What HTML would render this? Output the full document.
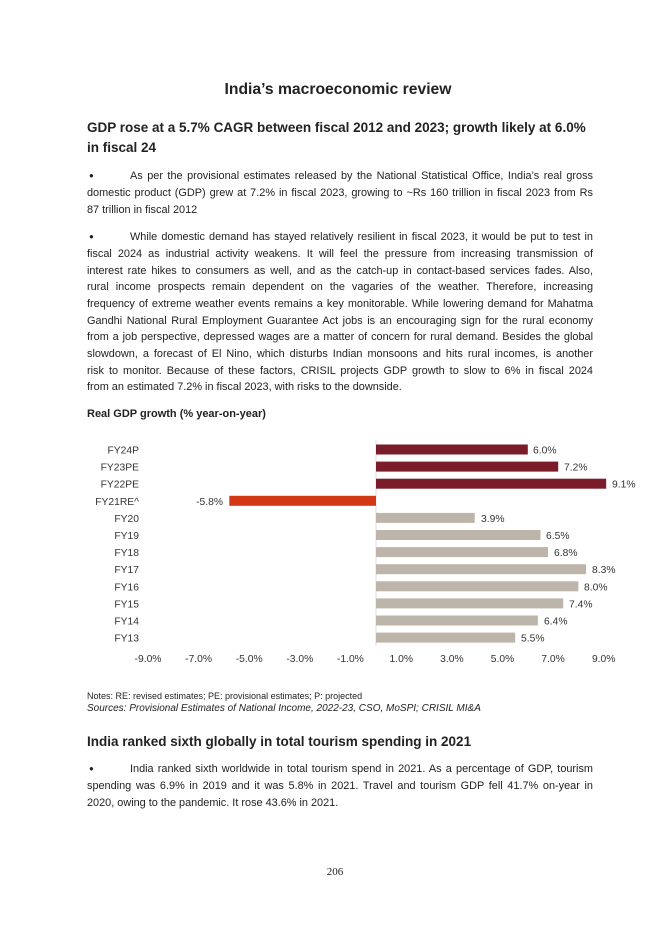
<!DOCTYPE html>
<html><head><meta charset="utf-8"><style>
body{margin:0;background:#fff;}
#p{position:relative;width:670px;height:947px;overflow:hidden;font-family:"Liberation Sans",Arial,sans-serif;color:#222;}
.l{position:absolute;left:87px;width:506px;font-size:10.9px;line-height:14px;white-space:nowrap;}
.j{text-align:justify;text-align-last:justify;white-space:normal;height:14px;overflow:visible;}
.b{position:absolute;left:89px;font-size:8px;}
.h{position:absolute;left:87px;font-weight:bold;font-size:13.5px;color:#222;white-space:nowrap;}
</style></head><body><div id="p">
<div style="position:absolute;left:0;width:670px;top:81px;text-align:center;font-weight:bold;font-size:15.7px;padding-left:6px;box-sizing:border-box;">India’s macroeconomic review</div>
<div class="h" style="top:120px">GDP rose at a 5.7% CAGR between fiscal 2012 and 2023; growth likely at 6.0%</div>
<div class="h" style="top:140px">in fiscal 24</div>

<div class="b" style="top:171px">●</div>
<div class="l j" style="top:169px;left:130px;width:463px">As per the provisional estimates released by the National Statistical Office, India’s real gross</div>
<div class="l j" style="top:186px">domestic product (GDP) grew at 7.2% in fiscal 2023, growing to ~Rs 160 trillion in fiscal 2023 from Rs</div>
<div class="l" style="top:203px">87 trillion in fiscal 2012</div>

<div class="b" style="top:232px">●</div>
<div class="l j" style="top:230px;left:130px;width:463px">While domestic demand has stayed relatively resilient in fiscal 2023, it would be put to test in</div>
<div class="l j" style="top:247px">fiscal 2024 as industrial activity weakens. It will feel the pressure from increasing transmission of</div>
<div class="l j" style="top:264px">interest rate hikes to consumers as well, and as the catch-up in contact-based services fades. Also,</div>
<div class="l j" style="top:280px">rural income prospects remain dependent on the vagaries of the weather. Therefore, increasing</div>
<div class="l j" style="top:297px">frequency of extreme weather events remains a key monitorable. While lowering demand for Mahatma</div>
<div class="l j" style="top:314px">Gandhi National Rural Employment Guarantee Act jobs is an encouraging sign for the rural economy</div>
<div class="l j" style="top:330px">from a job perspective, depressed wages are a matter of concern for rural demand. Besides the global</div>
<div class="l j" style="top:347px">slowdown, a forecast of El Nino, which disturbs Indian monsoons and hits rural incomes, is another</div>
<div class="l j" style="top:364px">risk to monitor. Because of these factors, CRISIL projects GDP growth to slow to 6% in fiscal 2024</div>
<div class="l" style="top:380px">from an estimated 7.2% in fiscal 2023, with risks to the downside.</div>

<div class="l" style="top:407px;font-weight:bold;font-size:11px">Real GDP growth (% year-on-year)</div>

<svg style="position:absolute;left:0;top:0" width="670" height="947" font-family="Liberation Sans,Arial,sans-serif" font-size="10.3" fill="#333">
<line x1="376" y1="440" x2="376" y2="646" stroke="#ddd" stroke-width="1"/>
<rect x="376" y="444.5" width="151.8" height="10" fill="#7a1c2a"/><text x="533" y="453.5">6.0%</text><text x="139" y="453.5" text-anchor="end">FY24P</text>
<rect x="376" y="461.6" width="182.2" height="10" fill="#7a1c2a"/><text x="564" y="470.6">7.2%</text><text x="139" y="470.6" text-anchor="end">FY23PE</text>
<rect x="376" y="478.7" width="230.2" height="10" fill="#7a1c2a"/><text x="612" y="487.7">9.1%</text><text x="139" y="487.7" text-anchor="end">FY22PE</text>
<rect x="229.3" y="495.8" width="146.7" height="10" fill="#d23814"/><text x="223" y="504.8" text-anchor="end">-5.8%</text><text x="139" y="504.8" text-anchor="end">FY21RE^</text>
<rect x="376" y="512.9" width="98.7" height="10" fill="#beb5aa"/><text x="481" y="521.9">3.9%</text><text x="139" y="521.9" text-anchor="end">FY20</text>
<rect x="376" y="530" width="164.5" height="10" fill="#beb5aa"/><text x="546" y="539">6.5%</text><text x="139" y="539" text-anchor="end">FY19</text>
<rect x="376" y="547.1" width="172" height="10" fill="#beb5aa"/><text x="554" y="556.1">6.8%</text><text x="139" y="556.1" text-anchor="end">FY18</text>
<rect x="376" y="564.2" width="210" height="10" fill="#beb5aa"/><text x="592" y="573.2">8.3%</text><text x="139" y="573.2" text-anchor="end">FY17</text>
<rect x="376" y="581.3" width="202.4" height="10" fill="#beb5aa"/><text x="584" y="590.3">8.0%</text><text x="139" y="590.3" text-anchor="end">FY16</text>
<rect x="376" y="598.4" width="187.2" height="10" fill="#beb5aa"/><text x="569" y="607.4">7.4%</text><text x="139" y="607.4" text-anchor="end">FY15</text>
<rect x="376" y="615.5" width="161.9" height="10" fill="#beb5aa"/><text x="544" y="624.5">6.4%</text><text x="139" y="624.5" text-anchor="end">FY14</text>
<rect x="376" y="632.6" width="139.2" height="10" fill="#beb5aa"/><text x="521" y="641.6">5.5%</text><text x="139" y="641.6" text-anchor="end">FY13</text>
<g text-anchor="middle">
<text x="148" y="662">-9.0%</text><text x="198.6" y="662">-7.0%</text><text x="249.2" y="662">-5.0%</text><text x="299.8" y="662">-3.0%</text><text x="350.4" y="662">-1.0%</text>
<text x="401.3" y="662">1.0%</text><text x="451.9" y="662">3.0%</text><text x="502.5" y="662">5.0%</text><text x="553.1" y="662">7.0%</text><text x="603.7" y="662">9.0%</text>
</g>
</svg>

<div class="l" style="top:689px;font-size:9px">Notes: RE: revised estimates; PE: provisional estimates; P: projected</div>
<div class="l" style="top:702px;font-size:10px;font-style:italic">Sources: Provisional Estimates of National Income, 2022-23, CSO, MoSPI; CRISIL MI&amp;A</div>
<div class="h" style="top:734px">India ranked sixth globally in total tourism spending in 2021</div>
<div class="b" style="top:764px">●</div>
<div class="l j" style="top:762px;left:130px;width:463px">India ranked sixth worldwide in total tourism spend in 2021. As a percentage of GDP, tourism</div>
<div class="l j" style="top:779px">spending was 6.9% in 2019 and it was 5.8% in 2021. Travel and tourism GDP fell 41.7% on-year in</div>
<div class="l" style="top:796px">2020, owing to the pandemic. It rose 43.6% in 2021.</div>
<div style="position:absolute;left:0;width:670px;top:866px;text-align:center;font-family:'Liberation Serif',serif;font-size:11px">206</div>
</div></body></html>
